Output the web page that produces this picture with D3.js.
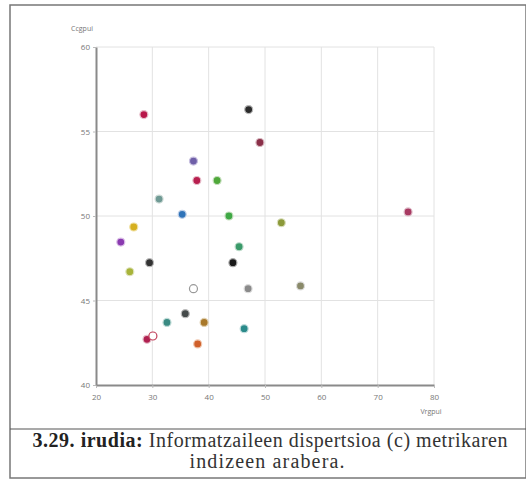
<!DOCTYPE html>
<meta charset="utf-8">
<style>
  body { margin: 0; background: #fff; }
  svg { display: block; }
</style>
<script src="https://d3js.org/d3.v7.min.js"></script>
<div id="chart"></div>
<script>
// informatzaileen balioak (x = Vrgpui, y = Ccgpui)
var xVals = [28.5, 47.1, 49.1, 37.3, 37.9, 41.5, 31.2, 35.3, 43.6, 52.9, 26.7, 75.4, 24.4, 45.4,
             29.5, 44.3, 26.0, 37.3, 47.0, 56.3, 35.85, 32.6, 39.2, 46.3, 29.05, 30.1, 38.05];
var yVals = [56.0, 56.3, 54.35, 53.25, 52.1, 52.1, 51.0, 50.1, 50.0, 49.6, 49.35, 50.24, 48.46, 48.18,
             47.24, 47.24, 46.7, 45.7, 45.7, 45.86, 44.22, 43.7, 43.7, 43.33, 42.7, 42.9, 42.43];
var dotColors = ["#b8174a", "#2b2b2b", "#8a2f48", "#6f5fa8", "#b81f4f", "#4fa83a", "#6f9a94", "#2f73b8",
                 "#3fa845", "#8c9a3a", "#d6b020", "#a83a62", "#8a3ab0", "#3a9a6a", "#333333", "#1a1a1a",
                 "#a8b43a", "#ffffff", "#8a8a8a", "#8a8a6a", "#444a4a", "#3a8a82", "#a8782a", "#2a8a8a",
                 "#b02050", "#ffffff", "#d0602a"];
var dotRings = ["#e8c0cc", "#bbb", "#d8b8c0", "#c8c0e0", "#e8c0cc", "#c8e0c0", "#d0dcd8", "#c0d0e8",
                "#c8e0c0", "#dce0c0", "#f0e0a0", "#e0c0cc", "#dcc0e8", "#c0dccc", "#bbb", "#aaa",
                "#e0e4c0", "#999", "#ddd", "#ddd", "#bbb", "#c0dcd8", "#e0d0b0", "#c0dcdc",
                "#e8c0cc", "#c0405a", "#f0c8b0"];
var xTicks = [20, 30, 40, 50, 60, 70, 80];
var yTicks = [40, 45, 50, 55, 60];
var caption1Bold = "3.29. irudia:";
var caption1 = " Informatzaileen dispertsioa (c) metrikaren";
var caption2 = "indizeen arabera.";

var W = 526, H = 480;
var svg = d3.select("#chart").append("svg").attr("width", W).attr("height", H);

// kanpoko markoa
svg.append("rect").attr("x", 10).attr("y", 5).attr("width", 516).attr("height", 473)
  .attr("fill", "none").attr("stroke", "#777").attr("stroke-width", 1.5);
svg.append("line").attr("x1", 10).attr("x2", 526).attr("y1", 429).attr("y2", 429)
  .attr("stroke", "#555").attr("stroke-width", 1.2);

var x = d3.scaleLinear().domain([20, 80]).range([96, 434]);
var y = d3.scaleLinear().domain([40, 60]).range([385, 47]);

// sareta
svg.append("g").selectAll("line").data(xTicks.slice(1)).join("line")
  .attr("x1", d => x(d)).attr("x2", d => x(d)).attr("y1", y(40)).attr("y2", y(60))
  .attr("stroke", "#e2e2e2").attr("stroke-width", 1);
svg.append("g").selectAll("line").data(yTicks.slice(1)).join("line")
  .attr("x1", x(20)).attr("x2", x(80)).attr("y1", d => y(d)).attr("y2", d => y(d))
  .attr("stroke", "#e2e2e2").attr("stroke-width", 1);

// ardatzak
var xAxis = svg.append("g").attr("transform", "translate(0," + y(40) + ")")
  .call(d3.axisBottom(x).tickValues(xTicks).tickSize(3).tickSizeOuter(0));
var yAxis = svg.append("g").attr("transform", "translate(" + x(20) + ",0)")
  .call(d3.axisLeft(y).tickValues(yTicks).tickSize(3).tickSizeOuter(0));
[xAxis, yAxis].forEach(function(g) {
  g.select(".domain").attr("stroke", "#8a8a8a").attr("stroke-width", 2);
  g.selectAll(".tick line").attr("stroke", "#bbb");
  g.selectAll("text").attr("fill", "#777").attr("font-family", "Open Sans, sans-serif").attr("font-size", 8);
});
xAxis.selectAll("text").attr("dy", "1.1em");

svg.append("text").attr("x", 82).attr("y", 31).attr("text-anchor", "middle")
  .attr("font-family", "Open Sans, sans-serif").attr("font-size", 7).attr("fill", "#777").text("Ccgpui");
svg.append("text").attr("x", 431).attr("y", 414).attr("text-anchor", "middle")
  .attr("font-family", "Open Sans, sans-serif").attr("font-size", 7).attr("fill", "#777").text("Vrgpui");

// puntuak
svg.append("g").selectAll("circle").data(d3.range(xVals.length)).join("circle")
  .attr("cx", i => x(xVals[i])).attr("cy", i => y(yVals[i])).attr("r", 4)
  .attr("fill", i => dotColors[i]).attr("stroke", i => dotRings[i]).attr("stroke-width", 1.2);

// irudi-oina
var cap = svg.append("text").attr("x", 270).attr("y", 447).attr("text-anchor", "middle")
  .attr("font-family", "Liberation Serif, Times New Roman, serif").attr("font-size", 20).attr("fill", "#222")
  .attr("textLength", 475).attr("lengthAdjust", "spacing");
cap.append("tspan").attr("font-weight", "bold").text(caption1Bold);
cap.append("tspan").attr("fill", "#333").text(caption1);
svg.append("text").attr("x", 267).attr("y", 468).attr("text-anchor", "middle")
  .attr("font-family", "Liberation Serif, Times New Roman, serif").attr("font-size", 20).attr("fill", "#333")
  .attr("textLength", 155).attr("lengthAdjust", "spacing")
  .text(caption2);
</script>
